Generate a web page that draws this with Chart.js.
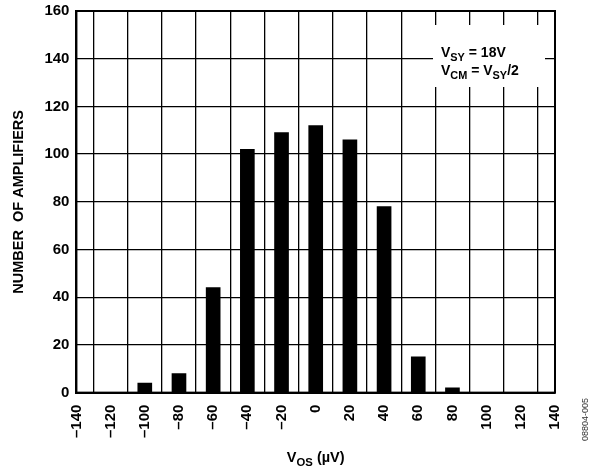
<!DOCTYPE html>
<html>
<head>
<meta charset="utf-8">
<script src="https://cdn.jsdelivr.net/npm/chart.js@4"></script>
<style>
  body { margin: 0; background: #fff; }
</style>
</head>
<body>
<canvas id="histChart" width="598" height="474"></canvas>
<script>
// histogram data
const vosBins = [-100, -80, -60, -40, -20, 0, 20, 40, 60, 80];
const ampCounts = [4, 8, 44, 102, 109, 112, 106, 78, 15, 2];
const xLimits = [-140, 140];
const yLimits = [0, 160];
const tickStep = 20;

const FONT = "'Liberation Sans', Arial, sans-serif";

// draw text with subscript pieces: parts = [[text, isSub], ...]
function drawSubText(ctx, parts, x, y, size) {
  let cx = x;
  parts.forEach(([txt, sub]) => {
    ctx.font = 'bold ' + (sub ? size * 0.78 : size) + 'px ' + FONT;
    ctx.fillText(txt, cx, sub ? y + size * 0.28 : y);
    cx += ctx.measureText(txt).width;
  });
  return cx - x;
}

function measureSubText(ctx, parts, size) {
  let w = 0;
  parts.forEach(([txt, sub]) => {
    ctx.font = 'bold ' + (sub ? size * 0.78 : size) + 'px ' + FONT;
    w += ctx.measureText(txt).width;
  });
  return w;
}

const extras = {
  id: 'extras',
  afterDraw(chart) {
    const ctx = chart.ctx;
    const a = chart.chartArea;
    ctx.save();

    // outer frame
    ctx.strokeStyle = '#000';
    ctx.lineWidth = 2;
    ctx.strokeRect(a.left, a.top, a.right - a.left, a.bottom - a.top);

    // condition box
    ctx.fillStyle = '#fff';
    ctx.fillRect(a.right - 122, a.top + 14, 112, 62);
    ctx.fillStyle = '#000';
    ctx.textBaseline = 'alphabetic';
    ctx.textAlign = 'left';
    drawSubText(ctx, [['V', false], ['SY', true], [' = 18V', false]], a.right - 114, a.top + 46, 14);
    drawSubText(ctx, [['V', false], ['CM', true], [' = V', false], ['SY', true], ['/2', false]], a.right - 114, a.top + 64, 14);

    // x axis title
    const xt = [['V', false], ['OS', true], [' (\u00b5V)', false]];
    const w = measureSubText(ctx, xt, 14.5);
    drawSubText(ctx, xt, (a.left + a.right) / 2 - w / 2, a.bottom + 69, 14.5);

    // figure code
    ctx.translate(588, 441);
    ctx.rotate(-Math.PI / 2);
    ctx.font = '9px ' + FONT;
    ctx.fillStyle = '#333';
    ctx.fillText('08804-005', 0, 0);
    ctx.restore();
  }
};

const ctx = document.getElementById('histChart');
new Chart(ctx, {
  type: 'bar',
  data: {
    datasets: [
      {
        label: 'Number of amplifiers',
        data: vosBins.map((v, i) => ({ x: v, y: ampCounts[i] })),
        backgroundColor: '#000',
        borderWidth: 0,
        barThickness: 14
      }
    ]
  },
  options: {
    responsive: false,
    animation: false,
    layout: { padding: { left: 10, right: 43, top: 11, bottom: 24 } },
    plugins: {
      legend: { display: false },
      tooltip: { enabled: false }
    },
    scales: {
      x: {
        type: 'linear',
        min: xLimits[0],
        max: xLimits[1],
        offset: false,
        ticks: {
          stepSize: tickStep,
          minRotation: 90,
          maxRotation: 90,
          padding: 12,
          color: '#000',
          font: { family: FONT, size: 15, weight: 'bold' },
          callback: v => (v < 0 ? '\u2013' + Math.abs(v) : '' + v)
        },
        grid: { color: '#000', lineWidth: 1.3, drawTicks: false },
        border: { display: true, color: '#000', width: 2 }
      },
      y: {
        min: yLimits[0],
        max: yLimits[1],
        ticks: {
          stepSize: tickStep,
          padding: 7,
          color: '#000',
          font: { family: FONT, size: 15, weight: 'bold', lineHeight: 1 }
        },
        grid: { color: '#000', lineWidth: 1.3, drawTicks: false },
        border: { display: true, color: '#000', width: 2 },
        title: {
          display: true,
          text: 'NUMBER  OF AMPLIFIERS',
          color: '#000',
          padding: { top: 0, bottom: 10 },
          font: { family: FONT, size: 14.5, weight: 'bold' }
        },
        afterFit(scale) {
          scale.paddingTop = 0;
        }
      }
    }
  },
  plugins: [extras]
});
</script>
</body>
</html>
